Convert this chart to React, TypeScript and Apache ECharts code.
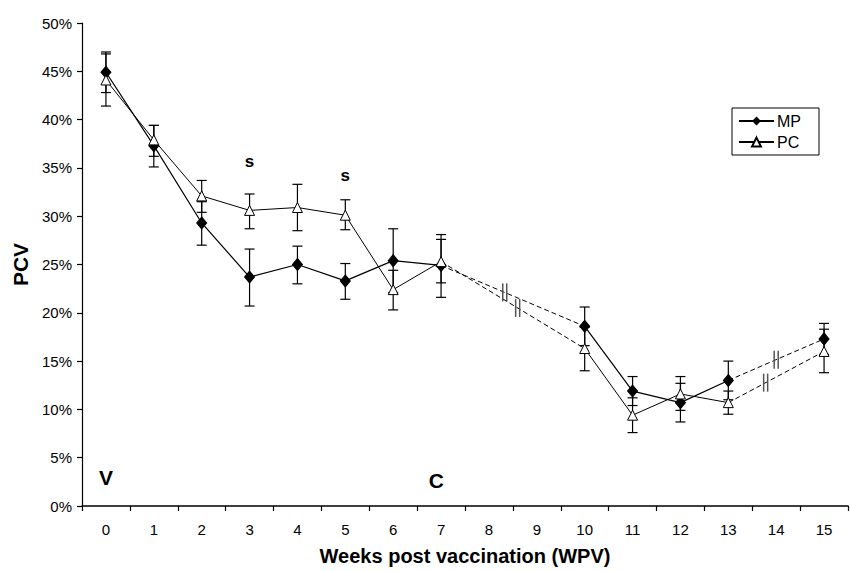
import React, { useEffect, useRef } from "react";
import * as echarts from "echarts";

const weeks = ["0","1","2","3","4","5","6","7","8","9","10","11","12","13","14","15"];
const weekIdx = [0, 1, 2, 3, 4, 5, 6, 7, 10, 11, 12, 13, 15];

const mpMean = [44.9, 37.3, 29.3, 23.7, 25.0, 23.3, 25.4, 24.9, 18.6, 11.9, 10.7, 13.0, 17.3];
const mpLow = [42.8, 35.1, 27.0, 20.7, 23.0, 21.4, 22.1, 21.6, 16.6, 10.4, 8.7, 11.0, 15.7];
const mpHigh = [47.0, 39.4, 31.5, 26.6, 26.9, 25.1, 28.7, 28.1, 20.6, 13.4, 12.7, 15.0, 18.9];

const pcMean = [44.1, 37.9, 32.1, 30.6, 30.9, 30.1, 22.4, 25.3, 16.3, 9.4, 11.6, 10.7, 16.0];
const pcLow = [41.4, 36.2, 30.4, 28.7, 28.5, 28.6, 20.3, 23.1, 14.0, 7.6, 9.9, 9.5, 13.8];
const pcHigh = [46.8, 39.4, 33.7, 32.3, 33.3, 31.7, 24.4, 27.6, 18.5, 11.2, 13.4, 11.9, 18.3];

// x positions (in weeks) of the "||" break marks on the dashed segments
const mpBreaks = [8.33, 14.0];
const pcBreaks = [8.6, 13.78];

// annotations: [week, value, text]
const notes: [number, number, string][] = [
  [3, 35.7, "s"],
  [5, 34.2, "s"],
  [0, 2.9, "V"],
  [6.9, 2.6, "C"],
];

function solidData(mean: number[]) {
  const out: any[] = [];
  for (let i = 0; i < weekIdx.length; i++) {
    if (i > 0 && weekIdx[i] - weekIdx[i - 1] > 1) out.push([weekIdx[i - 1] + 0.5, "-"]);
    out.push([weekIdx[i], mean[i]]);
  }
  return out;
}
function dashedData(mean: number[]) {
  const out: any[] = [];
  for (let i = 1; i < weekIdx.length; i++) {
    if (weekIdx[i] - weekIdx[i - 1] > 1) {
      if (out.length) out.push([weekIdx[i - 1], "-"]);
      out.push([weekIdx[i - 1], mean[i - 1]]);
      out.push([weekIdx[i], mean[i]]);
    }
  }
  return out;
}
function interp(mean: number[], x: number) {
  for (let i = 1; i < weekIdx.length; i++) {
    if (x >= weekIdx[i - 1] && x <= weekIdx[i]) {
      const t = (x - weekIdx[i - 1]) / (weekIdx[i] - weekIdx[i - 1]);
      return mean[i - 1] + t * (mean[i] - mean[i - 1]);
    }
  }
  return 0;
}

export default function App() {
  const ref = useRef<HTMLDivElement>(null);
  useEffect(() => {
    const chart = echarts.init(ref.current!, null, { renderer: "svg" });
    const font = "Liberation Sans, Arial, sans-serif";

    const errRender = (params: any, api: any) => {
      const x = api.value(0);
      const lo = api.coord([x, api.value(1)]);
      const hi = api.coord([x, api.value(2)]);
      const hw = 5;
      const style = { stroke: "#000", lineWidth: 1.2 };
      return {
        type: "group",
        children: [
          { type: "line", shape: { x1: lo[0], y1: lo[1], x2: hi[0], y2: hi[1] }, style },
          { type: "line", shape: { x1: lo[0] - hw, y1: lo[1], x2: lo[0] + hw, y2: lo[1] }, style },
          { type: "line", shape: { x1: hi[0] - hw, y1: hi[1], x2: hi[0] + hw, y2: hi[1] }, style },
        ],
      };
    };
    const breakRender = (params: any, api: any) => {
      const p = api.coord([api.value(0), api.value(1)]);
      const style = { stroke: "#555", lineWidth: 1.5 };
      return {
        type: "group",
        children: [
          { type: "line", shape: { x1: p[0] - 2, y1: p[1] - 9, x2: p[0] - 2, y2: p[1] + 9 }, style },
          { type: "line", shape: { x1: p[0] + 2, y1: p[1] - 9, x2: p[0] + 2, y2: p[1] + 9 }, style },
        ],
      };
    };
    const noteRender = (params: any, api: any) => {
      const p = api.coord([api.value(0), api.value(1)]);
      const t = notes[params.dataIndex][2];
      return {
        type: "text",
        x: p[0],
        y: p[1],
        style: {
          text: t,
          fill: "#000",
          font: `bold ${t === "s" ? 17 : 21}px ${font}`,
          align: "center",
          verticalAlign: "middle",
        },
      };
    };

    const errData = (low: number[], high: number[]) => weekIdx.map((w, i) => [w, low[i], high[i]]);
    const breakData = (mean: number[], xs: number[]) => xs.map((x) => [x, interp(mean, x)]);

    chart.setOption({
      animation: false,
      backgroundColor: "#fff",
      grid: { left: 82, right: 2, top: 23, bottom: 65 },
      legend: {
        data: ["MP", "PC"],
        orient: "vertical",
        left: 732,
        top: 108,
        padding: [5, 18, 5, 6],
        itemWidth: 35,
        itemHeight: 11,
        itemGap: 5,
        borderColor: "#000",
        borderWidth: 1,
        backgroundColor: "#fff",
        textStyle: { fontFamily: font, fontSize: 16, color: "#000", padding: [0, 0, 0, -2] },
      },
      xAxis: [
        {
          type: "category",
          data: weeks,
          boundaryGap: true,
          axisLine: { onZero: false, lineStyle: { color: "#000", width: 1.5 } },
          axisTick: { show: true, length: 5, lineStyle: { color: "#000", width: 1.2 } },
          axisLabel: { color: "#000", fontFamily: font, fontSize: 15, margin: 16 },
          name: "Weeks post vaccination (WPV)",
          nameLocation: "middle",
          nameGap: 40,
          nameTextStyle: { fontFamily: font, fontSize: 20, fontWeight: "bold", color: "#000" },
        },
        {
          type: "value",
          min: -0.5,
          max: 15.5,
          show: false,
        },
      ],
      yAxis: {
        type: "value",
        min: 0,
        max: 50,
        interval: 5,
        splitLine: { show: false },
        axisLine: { show: true, onZero: false, lineStyle: { color: "#000", width: 1.2 } },
        axisTick: { show: true, length: 5, lineStyle: { color: "#000", width: 1.2 } },
        axisLabel: { color: "#000", fontFamily: font, fontSize: 15, margin: 10, formatter: "{value}%" },
        name: "PCV",
        nameLocation: "middle",
        nameGap: 47,
        nameTextStyle: { fontFamily: font, fontSize: 21, fontWeight: "bold", color: "#000" },
      },
      series: [
        {
          type: "custom",
          name: "errMP",
          xAxisIndex: 1,
          renderItem: errRender,
          data: errData(mpLow, mpHigh),
          encode: { x: 0, y: [1, 2] },
          z: 1,
        },
        {
          type: "custom",
          name: "errPC",
          xAxisIndex: 1,
          renderItem: errRender,
          data: errData(pcLow, pcHigh),
          encode: { x: 0, y: [1, 2] },
          z: 1,
        },
        {
          type: "line",
          name: "MP",
          xAxisIndex: 1,
          data: solidData(mpMean),
          symbol: "diamond",
          symbolSize: [10, 12],
          showAllSymbol: true,
          lineStyle: { color: "#000", width: 1.2 },
          itemStyle: { color: "#000", borderColor: "#000" },
          z: 3,
        },
        {
          type: "line",
          name: "PC",
          xAxisIndex: 1,
          data: solidData(pcMean),
          symbol: "triangle",
          symbolSize: 10,
          showAllSymbol: true,
          lineStyle: { color: "#000", width: 1 },
          itemStyle: { color: "#fff", borderColor: "#000", borderWidth: 1 },
          z: 4,
        },
        {
          type: "line",
          name: "MPdash",
          xAxisIndex: 1,
          data: dashedData(mpMean),
          symbol: "none",
          lineStyle: { color: "#000", width: 1, type: [5, 3] },
          z: 2,
        },
        {
          type: "line",
          name: "PCdash",
          xAxisIndex: 1,
          data: dashedData(pcMean),
          symbol: "none",
          lineStyle: { color: "#000", width: 1, type: [5, 3] },
          z: 2,
        },
        {
          type: "custom",
          name: "breaks",
          xAxisIndex: 1,
          renderItem: breakRender,
          data: [...breakData(mpMean, mpBreaks), ...breakData(pcMean, pcBreaks)],
          encode: { x: 0, y: 1 },
          z: 5,
        },
        {
          type: "custom",
          name: "notes",
          xAxisIndex: 1,
          renderItem: noteRender,
          data: notes.map((n) => [n[0], n[1]]),
          encode: { x: 0, y: 1 },
          z: 5,
        },
      ],
    });
    return () => chart.dispose();
  }, []);
  return <div ref={ref} style={{ position: "absolute", left: 0, top: 0, width: 850, height: 571, background: "#fff" }} />;
}
